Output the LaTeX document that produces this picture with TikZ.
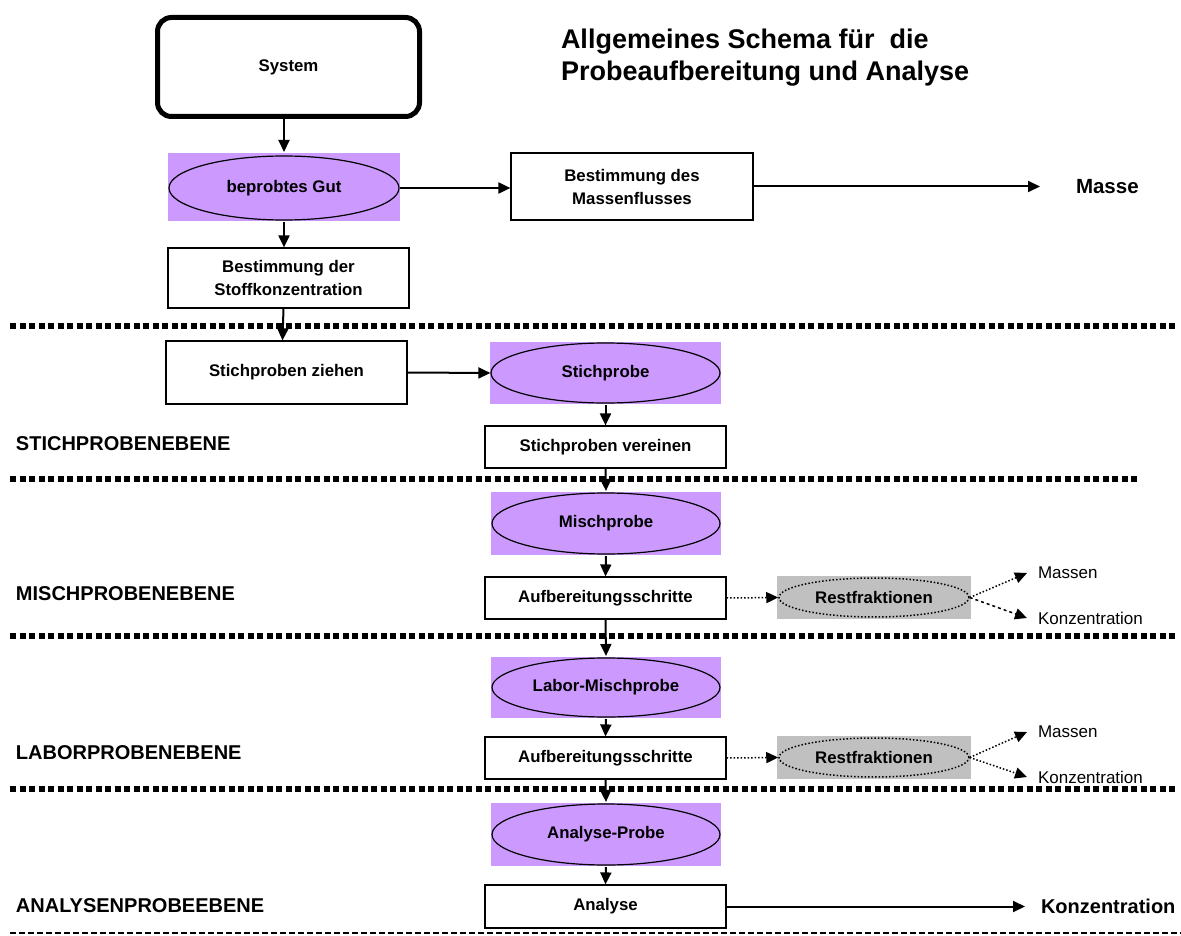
\documentclass[tikz,border=0pt]{standalone}
\usepackage{fontspec}
\setmainfont{Liberation Sans}
\usetikzlibrary{shapes.geometric,arrows.meta,positioning}
\definecolor{probeviolett}{HTML}{CC99FF}
\definecolor{restgrau}{HTML}{C0C0C0}

\begin{document}
\begin{tikzpicture}[x=1pt,y=-1pt,->,>={Triangle[length=12pt,width=11pt]},line width=2pt,
  stepbox/.style={draw,rectangle,line width=1.2pt,inner sep=0pt,minimum width=241pt,align=center,font=\fontsize{16.8}{23}\selectfont\bfseries},
  probebg/.style={fill=probeviolett,rectangle,inner sep=0pt,minimum width=230pt},
  probe/.style={ellipse,draw,line width=1.2pt,fill=probeviolett,inner sep=0pt,minimum width=228pt,font=\fontsize{16.8}{18}\selectfont\bfseries},
  restbg/.style={fill=restgrau,rectangle,inner sep=0pt,minimum width=194pt,minimum height=43pt},
  rest/.style={ellipse,draw,dotted,line width=1.5pt,fill=restgrau,inner sep=0pt,minimum width=190pt,minimum height=39pt,font=\fontsize{16.8}{18}\selectfont\bfseries},
  ebene/.style={anchor=west,inner sep=0pt,font=\fontsize{20}{22}\selectfont\bfseries},
  ziel/.style={anchor=west,inner sep=0pt,font=\fontsize{17}{18}\selectfont},
  trenn/.style={-,line width=5.5pt,dash pattern=on 6pt off 3.5pt}]
\useasboundingbox (0,0) rectangle (1181,936);

\draw[trenn] (10,326) -- (1178,326);
\draw[trenn] (10,479) -- (1138,479);
\draw[trenn] (10,636) -- (1178,636);
\draw[trenn] (10,789) -- (1178,789);
\draw[-,line width=1.5pt,dash pattern=on 6pt off 3pt] (10,933) -- (1181,933);

\node[anchor=west,inner sep=0pt,align=left,font=\fontsize{27}{32}\selectfont\bfseries] (titel) at (560,58) {Allgemeines Schema für~ die\\Probeaufbereitung und Analyse};

\node[stepbox,line width=5pt,rounded corners=14pt,minimum width=262pt,minimum height=99pt] (sys) at (288.5,67) {System};
\node[probebg,minimum width=232pt,minimum height=68pt] (gutbg) at (284,187) {};
\node[probe,minimum width=230pt,minimum height=64pt] (gut) at (284,188) {beprobtes Gut};
\node[stepbox,minimum width=242pt,minimum height=67pt] (massbox) at (632,186.5) {Bestimmung des\\Massenflusses};
\node[anchor=west,inner sep=0pt,font=\fontsize{20.5}{22}\selectfont\bfseries] (masse) at (1075,187) {Masse};
\coordinate (masseend) at (1040,186.5);
\node[stepbox,minimum height=60pt] (stoffbox) at (288.5,278) {Bestimmung der\\Stoffkonzentration};

\node[stepbox,minimum height=63pt] (ziehen) at (286.5,372.5) {Stichproben ziehen};
\node[probebg,minimum width=231pt,minimum height=62pt] (stichbg) at (605.5,373) {};
\node[probe,minimum width=229pt,minimum height=60pt] (stich) at (605.5,373) {Stichprobe};
\node[stepbox,minimum height=42pt] (vereinen) at (605.5,447) {Stichproben vereinen};
\node[ebene] (ebene1) at (15,444) {STICHPROBENEBENE};

\node[probebg,minimum height=63pt] (mischbg) at (606,523.5) {};
\node[probe,minimum height=61pt] (misch) at (606,523.5) {Mischprobe};
\node[stepbox,minimum height=42pt] (auf1) at (605.5,598) {Aufbereitungsschritte};
\node[restbg] (rest1bg) at (874,597.5) {};
\node[rest] (rest1) at (874,597.5) {Restfraktionen};
\node[ziel] (massen1) at (1037,573) {Massen};
\node[ziel] (konz1) at (1037,618) {Konzentration};
\node[ebene] (ebene2) at (15,594) {MISCHPROBENEBENE};

\node[probebg,minimum height=61pt] (laborbg) at (606,687.5) {};
\node[probe,minimum height=59pt] (labor) at (606,687.5) {Labor-Mischprobe};
\node[stepbox,minimum height=42pt] (auf2) at (605.5,758) {Aufbereitungsschritte};
\node[restbg] (rest2bg) at (874,757.5) {};
\node[rest] (rest2) at (874,757.5) {Restfraktionen};
\node[ziel] (massen2) at (1037,732) {Massen};
\node[ziel] (konz2) at (1037,777) {Konzentration};
\node[ebene] (ebene3) at (15,753) {LABORPROBENEBENE};

\node[probebg,minimum height=63pt] (analysebg) at (606,834.5) {};
\node[probe,minimum height=61pt] (analyseprobe) at (606,834.5) {Analyse-Probe};
\node[stepbox,minimum height=43pt] (analyse) at (605.5,906.5) {Analyse};
\node[anchor=west,inner sep=0pt,font=\fontsize{20}{22}\selectfont\bfseries] (konzende) at (1040,906) {Konzentration};
\coordinate (konzpfeil) at (1025,906.5);
\node[ebene] (ebene4) at (15,906) {ANALYSENPROBEEBENE};

\draw (sys.south -| gutbg.north) -- (gutbg.north);
\draw (gut.east) -- (gut.east -| massbox.west);
\draw (massbox.east) -- (masseend);
\draw (gutbg.south) -- (gutbg.south |- stoffbox.north);
\draw ([xshift=-5pt]stoffbox.south) -- ([xshift=-4pt]ziehen.north);
\draw (ziehen.east) -- (stich.west);
\draw (stichbg.south) -- (vereinen.north);
\draw (vereinen.south) -- (mischbg.north);
\draw (mischbg.south) -- (auf1.north);
\draw (auf1.south) -- (laborbg.north);
\draw (laborbg.south) -- (auf2.north);
\draw (auf2.south) -- (analysebg.north);
\draw (analysebg.south) -- (analyse.north);
\draw (analyse.east) -- (konzpfeil);
\draw[dotted,line width=1.5pt] (auf1.east) -- (rest1.west);
\draw[dotted,line width=1.5pt] (rest1.east) -- ([xshift=-10pt]massen1.west);
\draw[dashed,line width=1.5pt] (rest1.east) -- ([xshift=-10pt]konz1.west);
\draw[dotted,line width=1.5pt] (auf2.east) -- (rest2.west);
\draw[dotted,line width=1.5pt] (rest2.east) -- ([xshift=-10pt]massen2.west);
\draw[dotted,line width=1.5pt] (rest2.east) -- ([xshift=-10pt]konz2.west);
\end{tikzpicture}
\end{document}
